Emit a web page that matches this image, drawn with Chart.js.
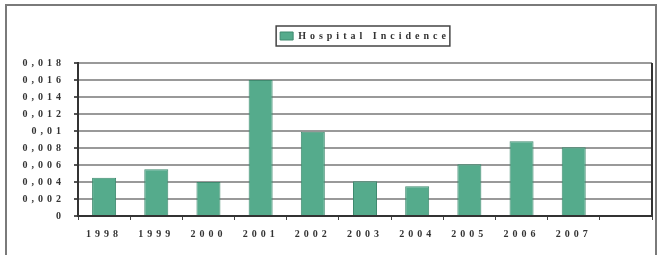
<!DOCTYPE html>
<html>
<head>
<meta charset="utf-8">
<script src="https://cdn.jsdelivr.net/npm/chart.js@4/dist/chart.umd.min.js"></script>
<style>
  html, body { margin: 0; padding: 0; background: #fff; }
  #wrap { position: relative; width: 657px; height: 255px; overflow: hidden; }
  #frame { position: absolute; left: 5px; top: 4px; width: 648px; height: 270px;
           border: 2px solid #7a7a7a; border-bottom: none; }
  canvas { position: absolute; left: 0; top: 0; }
</style>
</head>
<body>
<div id="wrap">
  <div id="frame"></div>
  <canvas id="bar" width="657" height="255"></canvas>
</div>
<script>
const years = ['1998', '1999', '2000', '2001', '2002', '2003', '2004', '2005', '2006', '2007', ''];
const incidence = [0.0045, 0.0055, 0.0040, 0.0160, 0.0099, 0.0041, 0.0035, 0.0061, 0.0088, 0.0081, null];
const seriesName = 'Hospital Incidence';

const textFont = { family: '"Liberation Serif", serif', size: 10, weight: 'bold' };

// spaced-out lettering like the scanned original
const spacing = {
  id: 'spacing',
  beforeLayout(chart) { chart.ctx.letterSpacing = '4px'; },
  beforeDraw(chart) { chart.ctx.letterSpacing = '4px'; }
};

// legend frame + right edge of plot
const frames = {
  id: 'frames',
  afterDraw(chart) {
    const c = chart.ctx;
    const a = chart.chartArea;
    c.save();
    c.strokeStyle = '#333';
    c.lineWidth = 2;
    c.beginPath();
    c.moveTo(a.right, a.top);
    c.lineTo(a.right, a.bottom);
    c.stroke();
    const h = chart.legend.legendHitBoxes[0];
    if (h) {
      c.strokeStyle = '#444';
      c.lineWidth = 1.5;
      c.strokeRect(h.left - 4, h.top - 5, h.width + 4, h.height + 10);
    }
    c.restore();
  }
};

new Chart(document.getElementById('bar'), {
  type: 'bar',
  data: {
    labels: years,
    datasets: [{
      label: seriesName,
      data: incidence,
      backgroundColor: '#55ab8c',
      borderColor: '#3f8a6f',
      borderWidth: 1,
      categoryPercentage: 1,
      barPercentage: 0.46
    }]
  },
  options: {
    responsive: false,
    animation: false,
    layout: { padding: { left: 0, right: 5, top: 11, bottom: 0 } },
    plugins: {
      tooltip: { enabled: false },
      // empty title used only as a spacer between legend and plot
      title: { display: true, text: '', padding: 0, font: { size: 10 } },
      legend: {
        position: 'top',
        weight: 3000,
        fullSize: false,
        labels: {
          boxWidth: 13,
          boxHeight: 8,
          padding: 20,
          color: '#333',
          font: textFont
        }
      }
    },
    scales: {
      x: {
        afterFit(scale) { scale.height = 39; },
        grid: { drawOnChartArea: false, drawTicks: true, tickLength: 4, tickColor: '#444', offset: true },
        border: { color: '#333', width: 2 },
        ticks: { color: '#333', font: textFont, padding: 8, maxRotation: 0 }
      },
      y: {
        min: 0,
        max: 0.018,
        afterFit(scale) { scale.width = 78; },
        grid: { color: '#999', lineWidth: 2, drawTicks: true, tickLength: 4, tickColor: '#555' },
        border: { color: '#333', width: 2 },
        ticks: {
          stepSize: 0.002,
          color: '#333',
          font: textFont,
          padding: 9,
          callback: v => parseFloat(v.toFixed(3)).toString().replace('.', ',')
        }
      }
    }
  },
  plugins: [spacing, frames]
});
</script>
</body>
</html>
